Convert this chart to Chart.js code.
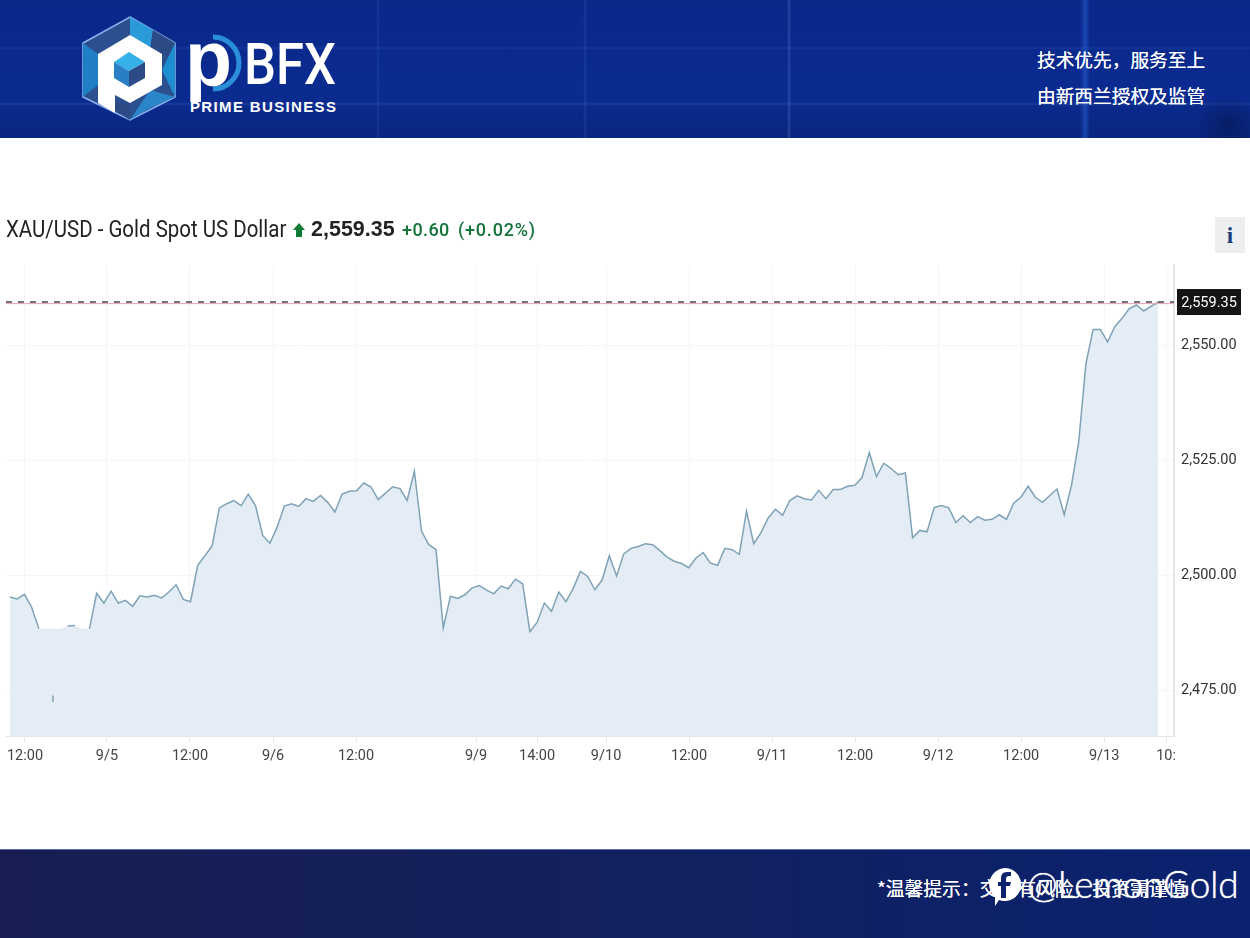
<!DOCTYPE html>
<html>
<head>
<meta charset="utf-8">
<title>XAU/USD</title>
<script src="https://cdn.jsdelivr.net/npm/chart.js@4"></script>
<style>
html, body { margin: 0; padding: 0; background: #fff; overflow: hidden; }
body { width: 1250px; height: 938px; position: relative; font-family: "Liberation Sans", sans-serif; }
.abs { position: absolute; white-space: nowrap; }
#chart { position: absolute; left: 0; top: 0; }
#header {
    position: absolute; left: 0; top: 0; width: 1250px; height: 138px;
    background:
        radial-gradient(circle at 1228px 125px, rgba(5,20,70,.5) 0, transparent 32px),
        linear-gradient(90deg, transparent 376px, rgba(120,170,255,.1) 378px, transparent 380px),
        linear-gradient(90deg, transparent 583px, rgba(120,170,255,.12) 585px, transparent 587px),
        linear-gradient(90deg, transparent 787px, rgba(150,190,255,.2) 789px, transparent 791px),
        linear-gradient(90deg, transparent 1080px, rgba(60,130,255,.35) 1085px, transparent 1090px),
        linear-gradient(180deg, transparent 46px, rgba(120,170,255,.1) 48px, transparent 50px),
        linear-gradient(180deg, transparent 102px, rgba(120,170,255,.14) 104px, transparent 106px),
        linear-gradient(180deg, #09288a 0, #0a2b90 70%, #09267f 100%);
}
#footer {
    position: absolute; left: 0; top: 849px; width: 1250px; height: 89px;
    background: linear-gradient(90deg, #171d50 0, #13205c 45%, #0a2270 100%);
    border-top: 1px solid #5a6fb5; box-sizing: border-box;
}
.cjk { font-family: "Noto Sans CJK SC", sans-serif; color: #fff; text-shadow: 0 0 .4px #fff; }
.squeezed { font-family: Roboto, sans-serif; transform: scaleX(0.89); transform-origin: left center; }
</style>
</head>
<body>
<canvas id="chart" width="1250" height="938"></canvas>

<div id="header"></div>
<svg class="abs" style="left:0;top:0" width="400" height="138">
    <polygon points="130,17 175,43 175,97 130,120 83,97 83,43" fill="#2b4f8f" stroke="#8fb4f0" stroke-width="1.5"/>
    <polygon points="130,17 153,30 150,50 130,35" fill="#2a9ad8"/>
    <polygon points="153,30 175,43 175,60 150,50" fill="#2b4a86"/>
    <polygon points="175,43 175,97 162,70" fill="#1f8ed0"/>
    <polygon points="83,43 98,54 98,85 83,97" fill="#1f7fc4"/>
    <polygon points="130,120 150,108 175,97 150,90" fill="#2a86c8"/>
    <polygon points="98,100 130,120 130,104" fill="#2b4a86"/>
    <polygon points="130,35 162,54 162,85 130,103 115,95 115,113 98,103 98,54" fill="#fff"/>
    <polygon points="129,52 145,62 129,71 114,62" fill="#35b0e8"/>
    <polygon points="114,62 129,71 129,87 114,78" fill="#2a7fc4"/>
    <polygon points="145,62 145,78 129,87 129,71" fill="#2b4a86"/>
    <path d="M213 37 A26 26 0 0 1 213 89" fill="none" stroke="#2a8fd8" stroke-width="5"/>
</svg>
<div class="abs" style="left:185px;top:15px;font-size:77px;line-height:88px;font-weight:bold;color:#fff">p</div>
<div class="abs squeezed" style="left:244px;top:32px;font-size:57px;line-height:66px;font-weight:500;color:#fff">BFX</div>
<div class="abs" style="left:190px;top:98px;font-size:15px;line-height:18px;font-weight:bold;letter-spacing:1.35px;color:#fff">PRIME BUSINESS</div>
<div class="abs cjk" style="left:1037px;top:45px;font-size:18.7px;line-height:27px">技术优先，服务至上</div>
<div class="abs cjk" style="left:1037px;top:81px;font-size:18.7px;line-height:27px">由新西兰授权及监管</div>

<div class="abs squeezed" style="left:6px;top:216px;font-size:23px;line-height:27px;color:#222">XAU/USD - Gold Spot US Dollar</div>
<svg class="abs" style="left:292px;top:223px" width="14" height="15">
    <polygon points="7,0 13,7 10,7 10,14 4,14 4,7 1,7" fill="#0f7a35"/>
</svg>
<div class="abs" style="left:311px;top:216px;font-size:21.5px;line-height:27px;font-weight:bold;color:#222">2,559.35</div>
<div class="abs" style="left:402px;top:217px;font-family:Roboto,sans-serif;font-size:18px;line-height:25px;font-weight:500;letter-spacing:.4px;color:#14743a">+0.60</div>
<div class="abs" style="left:458px;top:217px;font-family:Roboto,sans-serif;font-size:18px;line-height:25px;font-weight:500;letter-spacing:.8px;color:#14743a">(+0.02%)</div>
<div class="abs" style="left:1215px;top:217px;width:30px;height:36px;background:#eceef0;text-align:center;font:bold 23px/37px 'Liberation Serif',serif;color:#1d3f77">i</div>

<div id="footer"></div>
<div class="abs cjk" style="left:877px;top:874px;font-size:18.8px;line-height:27px;">*温馨提示：交易有风险，投资需谨慎</div>
<svg class="abs" style="left:985px;top:866px" width="38" height="42">
    <path d="M19 2 A16.5 16.5 0 1 1 14 34 L10 40 L10 31 A16.5 16.5 0 0 1 19 2 Z" fill="#fff"/>
    <path d="M21 32 V20 H25 L26 16 H21 V13 Q21 10 24 10 H26 V6 H22 Q16 6 16 12 V16 H13 V20 H16 V32 Z" fill="#0e2470"/>
</svg>
<div class="abs" style="left:1027px;top:860px;font-family:Lato,sans-serif;font-weight:300;font-size:37px;line-height:48px;letter-spacing:-.2px;color:#fff;text-shadow:0 0 1px #fff">@LemonGold</div>

<script>
// Gold spot prices, one reading per step along the axis
const priceValues = [
    2495.2, 2494.8, 2495.8, 2493.0, 2488.3, 2488.3, 2488.3, 2488.3, 2488.9, 2489.0,
    2488.3, 2488.3, 2496.0, 2493.9, 2496.5, 2493.9, 2494.5, 2493.2, 2495.5, 2495.2,
    2495.6, 2495.0, 2496.3, 2497.9, 2494.7, 2494.2, 2502.1, 2504.2, 2506.4, 2514.6,
    2515.5, 2516.2, 2515.1, 2517.6, 2515.1, 2508.6, 2506.9, 2510.4, 2515.0, 2515.5,
    2514.9, 2516.6, 2516.0, 2517.3, 2515.8, 2513.7, 2517.6, 2518.2, 2518.3, 2520.0,
    2519.1, 2516.4, 2517.8, 2519.2, 2518.8, 2516.2, 2522.6, 2509.5, 2506.6, 2505.5,
    2488.5, 2495.4, 2494.9, 2495.7, 2497.2, 2497.7, 2496.7, 2495.9, 2497.6, 2497.0,
    2499.1, 2498.1, 2487.7, 2489.7, 2493.9, 2492.1, 2496.3, 2494.2, 2497.1, 2500.8,
    2499.7, 2496.8, 2498.9, 2504.2, 2499.8, 2504.6, 2505.8, 2506.2, 2506.8, 2506.6,
    2505.3, 2503.9, 2503.0, 2502.5, 2501.6, 2503.7, 2504.9, 2502.6, 2502.1, 2505.8,
    2505.5, 2504.5, 2513.9, 2506.8, 2509.2, 2512.4, 2514.3, 2513.0, 2516.2, 2517.2,
    2516.6, 2516.3, 2518.4, 2516.6, 2518.6, 2518.6, 2519.3, 2519.5, 2521.2, 2526.6,
    2521.4, 2524.3, 2523.2, 2521.8, 2522.2, 2508.1, 2509.7, 2509.4, 2514.7, 2515.1,
    2514.6, 2511.4, 2512.9, 2511.4, 2512.7, 2511.9, 2512.1, 2513.1, 2512.1, 2515.6,
    2516.9, 2519.3, 2516.9, 2515.8, 2517.3, 2518.7, 2513.1, 2519.5, 2528.9, 2545.9,
    2553.4, 2553.4, 2550.7, 2554.0, 2555.8, 2557.9, 2558.7, 2557.4, 2558.4, 2559.35
];
const lastPrice = 2559.35;
const yTicks = [2475, 2500, 2525, 2550];
const tickLabels = ['12:00', '9/5', '12:00', '9/6', '12:00', '9/9', '14:00', '9/10', '12:00', '9/11', '12:00', '9/12', '12:00', '9/13', '10:'];
const tickIndex = [2.08, 13.43, 24.93, 36.43, 47.92, 64.54, 73.0, 82.55, 94.04, 105.54, 117.04, 128.53, 140.03, 151.52, 160.1];
// Readings whose line is painted over in the source picture, fill stays
const hiddenLine = [5, 6, 7, 10];
const strayMark = [[5.96, 2473.8], [5.96, 2472.4]];

const xMin = -0.55, xMax = 161.2;
const axisFont = { family: 'Roboto, sans-serif', size: 14.5 };

// Black price tag on the right axis
const priceTag = {
    id: 'priceTag',
    afterDraw(chart) {
        const c = chart.ctx;
        const y = chart.scales.y.getPixelForValue(lastPrice);
        c.save();
        c.fillStyle = '#151515';
        c.fillRect(1177, y - 13, 64, 26);
        c.fillStyle = '#fff';
        c.font = '14.5px ' + axisFont.family;
        c.textAlign = 'center';
        c.textBaseline = 'middle';
        c.fillText(lastPrice.toLocaleString('en-US', { minimumFractionDigits: 2 }), 1209, y + 1);
        c.restore();
    }
};

new Chart(document.getElementById('chart').getContext('2d'), {
    type: 'line',
    plugins: [priceTag],
    data: {
        datasets: [
            // Fill on its own, the line above it has gaps
            {
                data: priceValues.map((v, i) => ({ x: i, y: v })),
                borderColor: 'rgba(0,0,0,0)',
                backgroundColor: '#e4edf5',
                fill: 'start',
                pointRadius: 0,
                order: 4
            },
            {
                data: priceValues.map((v, i) => ({ x: i, y: hiddenLine.includes(i) ? null : v })),
                borderColor: '#7fa2b6',
                borderWidth: 1.5,
                fill: false,
                spanGaps: false,
                pointRadius: 0,
                order: 3
            },
            {
                data: strayMark.map(p => ({ x: p[0], y: p[1] })),
                borderColor: '#7fa2b6',
                borderWidth: 1.5,
                pointRadius: 0,
                order: 2
            },
            {
                data: [{ x: xMin, y: lastPrice - 0.35 }, { x: xMax, y: lastPrice - 0.35 }],
                borderColor: '#e8a3ac',
                borderWidth: 1,
                pointRadius: 0,
                order: 1
            },
            {
                data: [{ x: xMin, y: lastPrice }, { x: xMax, y: lastPrice }],
                borderColor: '#45434c',
                borderWidth: 1.5,
                borderDash: [6, 6],
                pointRadius: 0,
                order: 0
            }
        ]
    },
    options: {
        responsive: false,
        animation: false,
        layout: { padding: { left: 6, top: 265, right: 0, bottom: 0 } },
        plugins: { legend: { display: false }, tooltip: { enabled: false } },
        scales: {
            x: {
                type: 'linear',
                min: xMin,
                max: xMax,
                afterBuildTicks: axis => { axis.ticks = tickIndex.map(v => ({ value: v })); },
                afterFit: axis => { axis.height = 202; },
                grid: { color: '#f4f5f7', tickColor: '#e3e6e9', tickLength: 6 },
                border: { color: '#e3e6e9' },
                ticks: {
                    autoSkip: false,
                    maxRotation: 0,
                    padding: 6,
                    color: '#444',
                    font: axisFont,
                    callback: (value, i) => tickLabels[i]
                }
            },
            y: {
                position: 'right',
                min: 2465,
                max: 2567.4,
                afterBuildTicks: axis => { axis.ticks = yTicks.map(v => ({ value: v })); },
                afterFit: axis => { axis.width = 76; },
                grid: { color: '#f5f6f7', drawTicks: false },
                border: { color: '#e6e6e6', width: 2 },
                ticks: {
                    padding: 7,
                    color: '#333',
                    font: axisFont,
                    callback: value => value.toLocaleString('en-US', { minimumFractionDigits: 2 })
                }
            }
        }
    }
});
</script>
</body>
</html>
